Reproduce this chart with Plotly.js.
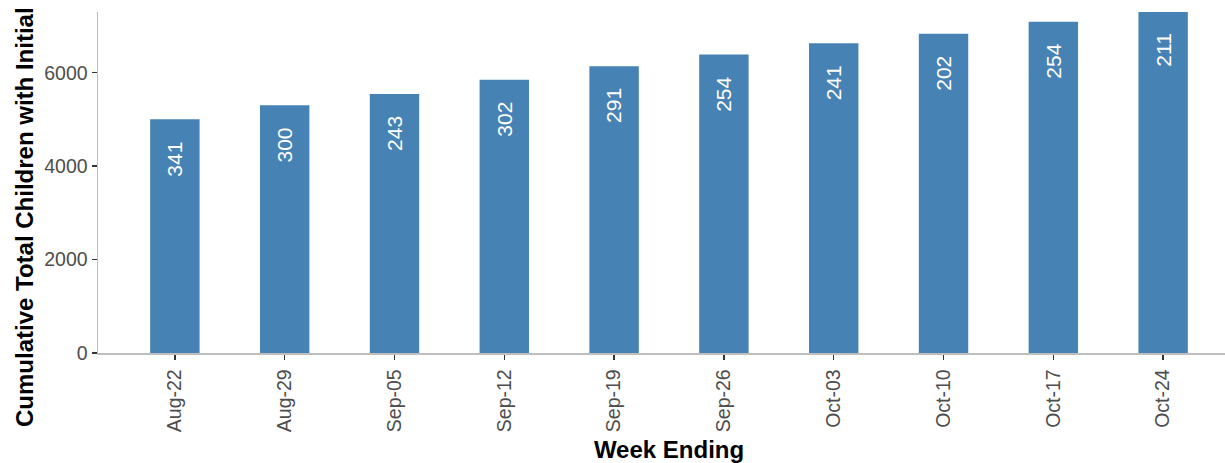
<!DOCTYPE html>
<html>
<head>
<meta charset="utf-8">
<script src="https://cdn.plot.ly/plotly-3.0.1.min.js"></script>
<style>
  html, body { margin: 0; padding: 0; overflow: hidden; background: #fff; }
  #chart { width: 1240px; height: 463px; }
</style>
</head>
<body>
<div id="chart"></div>
<script>
'use strict'
// week ending dates (x categories)
let weeks = ['Aug-22', 'Aug-29', 'Sep-05', 'Sep-12', 'Sep-19', 'Sep-26', 'Oct-03', 'Oct-10', 'Oct-17', 'Oct-24'];
// cumulative total children (bar heights)
let cumulative = [5002, 5302, 5545, 5847, 6138, 6392, 6633, 6835, 7089, 7300];
// new children that week (labels in the bars)
let weekly = [341, 300, 243, 302, 291, 254, 241, 202, 254, 211];
let yTicks = [0, 2000, 4000, 6000];

let font = 'Liberation Sans, Arial, sans-serif';

// labels written inside the bars, rotated
let labels = weeks.map(function (w, i) {
  return {
    x: w, y: cumulative[i], xref: 'x', yref: 'y',
    text: String(weekly[i]), textangle: -90, showarrow: false,
    yanchor: 'top', yshift: -20,
    font: {family: font, size: 21, color: '#ffffff'}
  };
});

// y title as an annotation so it starts at the bottom like the original
labels.push({
  x: 0, y: 0, xref: 'paper', yref: 'paper',
  xanchor: 'center', yanchor: 'bottom', xshift: -74, yshift: -76,
  text: '<b>Cumulative Total Children with Initial</b>', textangle: -90, showarrow: false,
  font: {family: font, size: 24, color: '#000000'}
});

let trace = {
  x: weeks, y: cumulative, type: 'bar',
  marker: {color: '#4682B4'}, width: 0.45,
  hoverinfo: 'x+y'
};

let layout = {
  width: 1240, height: 463,
  margin: {l: 98, r: 0, t: 12, b: 110, pad: 0},
  paper_bgcolor: '#ffffff', plot_bgcolor: '#ffffff',
  showlegend: false,
  font: {family: font, color: '#4d4d4d'},
  xaxis: {
    type: 'category', range: [-0.7, 9.7],
    showline: true, linecolor: '#bebebe', linewidth: 1.5,
    ticks: 'outside', ticklen: 5, tickcolor: '#333333', tickwidth: 1.5,
    tickangle: -90, ticklabelstandoff: 2,
    tickfont: {family: font, size: 19.5, color: '#4d4d4d'},
    showgrid: false, zeroline: false,
    title: {text: '<b>Week Ending</b>', font: {family: font, size: 24, color: '#000000'}, standoff: 12}
  },
  yaxis: {
    range: [0, 7300], tickvals: yTicks,
    showline: true, linecolor: '#bebebe', linewidth: 1.5,
    ticks: 'outside', ticklen: 5, tickcolor: '#333333', tickwidth: 1.5,
    tickfont: {family: font, size: 19.5, color: '#4d4d4d'},
    showgrid: false, zeroline: false
  },
  annotations: labels
};

Plotly.newPlot(document.getElementById('chart'), [trace], layout, {displayModeBar: false, staticPlot: true});
</script>
</body>
</html>
